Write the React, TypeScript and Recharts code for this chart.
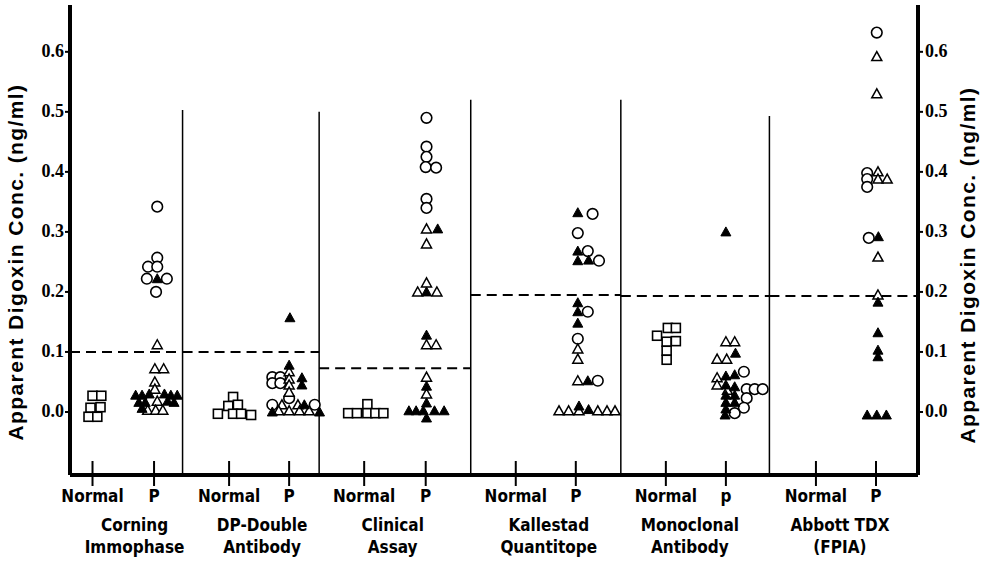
import React from 'react'
import { ScatterChart, Scatter, XAxis, YAxis, ReferenceLine } from 'recharts'

type Pt = [number, 'N' | 'P', number, number] // group, side, value, column slot

const assays = [
  ['Corning', 'Immophase'],
  ['DP-Double', 'Antibody'],
  ['Clinical', 'Assay'],
  ['Kallestad', 'Quantitope'],
  ['Monoclonal', 'Antibody'],
  ['Abbott TDX', '(FPIA)'],
]
const pLabels = ['P', 'P', 'P', 'P', 'p', 'P']
const normalX = [0.15, 1.06, 1.96, 2.97, 3.97, 4.97]
const pX = [0.56, 1.46, 2.37, 3.37, 4.37, 5.37]
const labelX = [0.43, 1.28, 2.15, 3.19, 4.13, 5.13]
const dividerX = [0.75, 1.66, 2.67, 3.67, 4.66]
const dividerTop = [0.503, 0.5, 0.52, 0.52, 0.493]
const cutoffs = [0.1, 0.1, 0.073, 0.195, 0.193, 0.193]
const yTicks = [0, 0.1, 0.2, 0.3, 0.4, 0.5, 0.6]
const X_MAX = 5.65
const Y_MIN = -0.105
const Y_MAX = 0.678
const SLOT = 0.0533

const W = 984
const H = 570
const MARGIN = { top: 5, right: 6, bottom: 5, left: 10 }
const Y_AXIS_W = 60
const PX_PER_X = (W - MARGIN.left - MARGIN.right - 2 * Y_AXIS_W) / X_MAX

const squares: Pt[] = [
  [0, 'N', 0.027, 0], [0, 'N', 0.027, 1.1], [0, 'N', 0.007, -0.25], [0, 'N', 0.008, 1], [0, 'N', -0.008, -0.5], [0, 'N', -0.008, 0.6],
  [1, 'N', 0.025, 0.5], [1, 'N', 0.01, -0.1], [1, 'N', 0.012, 1.1], [1, 'N', -0.003, -1.4], [1, 'N', -0.003, 0.5], [1, 'N', -0.003, 1.5], [1, 'N', -0.005, 2.75],
  [2, 'N', 0.013, 0.4], [2, 'N', -0.002, -2], [2, 'N', -0.002, -0.9], [2, 'N', -0.002, 0.4], [2, 'N', -0.002, 1.4], [2, 'N', -0.002, 2.4],
  [4, 'N', 0.14, 0.25], [4, 'N', 0.14, 1.25], [4, 'N', 0.127, -1.1], [4, 'N', 0.117, 0.1], [4, 'N', 0.118, 1.25], [4, 'N', 0.102, 0.1], [4, 'N', 0.087, 0.1],
]

const openCircles: Pt[] = [
  [0, 'P', 0.342, 0.4], [0, 'P', 0.257, 0.4], [0, 'P', 0.242, -0.75], [0, 'P', 0.242, 0.4], [0, 'P', 0.222, -0.9], [0, 'P', 0.222, 1.6], [0, 'P', 0.2, 0.25],
  [1, 'P', 0.058, -2.1], [1, 'P', 0.058, -1.1], [1, 'P', 0.048, -2.1], [1, 'P', 0.048, -1.1], [1, 'P', 0.023, 0], [1, 'P', 0.012, -2.1], [1, 'P', 0.012, 3.2],
  [2, 'P', 0.49, 0.1], [2, 'P', 0.442, 0.1], [2, 'P', 0.425, 0.1], [2, 'P', 0.408, 0], [2, 'P', 0.407, 1.3], [2, 'P', 0.355, 0.1], [2, 'P', 0.34, 0.1],
  [3, 'P', 0.33, 2.1], [3, 'P', 0.298, 0.25], [3, 'P', 0.268, 1.5], [3, 'P', 0.252, 2.9], [3, 'P', 0.167, 1.5], [3, 'P', 0.122, 0.25], [3, 'P', 0.052, 2.75],
  [4, 'P', 0.067, 2.25], [4, 'P', 0.038, 2.6], [4, 'P', 0.038, 3.6], [4, 'P', 0.038, 4.6], [4, 'P', 0.023, 2.6], [4, 'P', 0.007, 2.25], [4, 'P', -0.002, 1.1],
  [5, 'P', 0.632, 0.1], [5, 'P', 0.398, -1.1], [5, 'P', 0.388, -1.1], [5, 'P', 0.375, -1.1], [5, 'P', 0.29, -0.9],
]

const openTriangles: Pt[] = [
  [0, 'P', 0.112, 0.4], [0, 'P', 0.072, 0.1], [0, 'P', 0.072, 1.2], [0, 'P', 0.05, 0.1], [0, 'P', 0.038, 0.1], [0, 'P', 0.018, 0.4], [0, 'P', 0.003, -0.8], [0, 'P', 0.003, 0.2], [0, 'P', 0.003, 1.1],
  [1, 'P', 0.067, 0], [1, 'P', 0.055, 0], [1, 'P', 0.045, 0], [1, 'P', 0.033, 0], [1, 'P', 0.012, -0.9], [1, 'P', 0.012, 1.1], [1, 'P', 0.002, -1.3], [1, 'P', 0.002, 0], [1, 'P', 0.002, 1.3], [1, 'P', 0.002, 2.5],
  [2, 'P', 0.305, 0.1], [2, 'P', 0.28, 0.1], [2, 'P', 0.215, 0.1], [2, 'P', 0.2, -1], [2, 'P', 0.2, 1.4], [2, 'P', 0.112, 0.1], [2, 'P', 0.112, 1.3], [2, 'P', 0.058, 0.1], [2, 'P', 0.03, 0.1],
  [3, 'P', 0.105, 0.25], [3, 'P', 0.088, 0.25], [3, 'P', 0.052, 0.25], [3, 'P', 0.002, -2.1], [3, 'P', 0.002, -0.9], [3, 'P', 0.002, 0.4], [3, 'P', 0.002, 2.75], [3, 'P', 0.002, 3.9], [3, 'P', 0.002, 4.9],
  [4, 'P', 0.117, 0], [4, 'P', 0.117, 1.1], [4, 'P', 0.088, -1.1], [4, 'P', 0.088, 0.1], [4, 'P', 0.057, -1.1], [4, 'P', 0.045, -1.1], [4, 'P', 0.036, 0.2],
  [5, 'P', 0.592, 0.1], [5, 'P', 0.53, 0.1], [5, 'P', 0.4, 0.25], [5, 'P', 0.388, 0.25], [5, 'P', 0.388, 1.4], [5, 'P', 0.258, 0.25], [5, 'P', 0.195, 0.25],
]

const filledTriangles: Pt[] = [
  [0, 'P', 0.222, 0.4], [0, 'P', 0.028, -2.3], [0, 'P', 0.028, -1.5], [0, 'P', 0.03, -0.6], [0, 'P', 0.03, 1.3], [0, 'P', 0.028, 2.1], [0, 'P', 0.028, 2.9],
  [0, 'P', 0.016, -1.9], [0, 'P', 0.016, -1.1], [0, 'P', 0.018, 1.7], [0, 'P', 0.016, 2.5], [0, 'P', 0.006, -1.5],
  [1, 'P', 0.157, 0.1], [1, 'P', 0.078, 0], [1, 'P', 0.057, 1.6], [1, 'P', 0.045, 1.6], [1, 'P', 0.0, -2.1], [1, 'P', 0.0, 3.8], [1, 'P', 0.012, 1.9],
  [2, 'P', 0.305, 1.5], [2, 'P', 0.2, 0.1], [2, 'P', 0.128, 0.1], [2, 'P', 0.043, 0.1], [2, 'P', 0.015, 0.1],
  [2, 'P', 0.002, -2.1], [2, 'P', 0.002, -1.2], [2, 'P', 0.002, -0.3], [2, 'P', 0.002, 1.1], [2, 'P', 0.002, 2.3], [2, 'P', -0.01, 0.1],
  [3, 'P', 0.332, 0.25], [3, 'P', 0.268, 0.25], [3, 'P', 0.252, 0.25], [3, 'P', 0.253, 1.6], [3, 'P', 0.182, 0.25], [3, 'P', 0.167, 0.25], [3, 'P', 0.148, 0.25],
  [3, 'P', 0.052, 1.5], [3, 'P', 0.01, 0.4], [3, 'P', 0.004, 1.6],
  [4, 'P', 0.3, 0], [4, 'P', 0.098, 1.2], [4, 'P', 0.062, 1.1], [4, 'P', 0.06, 0], [4, 'P', 0.045, 0], [4, 'P', 0.042, 1.1], [4, 'P', 0.028, 0],
  [4, 'P', 0.028, 1.1], [4, 'P', 0.016, 0], [4, 'P', 0.016, 1.1], [4, 'P', 0.005, 0], [4, 'P', -0.005, -0.1],
  [5, 'P', 0.292, 0.3], [5, 'P', 0.183, 0.25], [5, 'P', 0.132, 0.25], [5, 'P', 0.103, 0.25], [5, 'P', 0.092, 0.25],
  [5, 'P', -0.005, -1.1], [5, 'P', -0.005, 0.1], [5, 'P', -0.005, 1.3],
]

const toXY = (pts: Pt[]) =>
  pts.map(([g, side, v, slot]) => ({ x: (side === 'N' ? normalX[g] : pX[g]) + slot * SLOT, y: v }))

const bounds = [0, ...dividerX, X_MAX]
const LABEL_FONT = "'Liberation Sans Narrow', 'DejaVu Sans Condensed', 'Liberation Sans', sans-serif"

const SquareShape = (p: any) => (
  <rect x={p.cx - 4.5} y={p.cy - 4.5} width={9} height={9} fill="#fff" stroke="#000" strokeWidth={1.6} />
)
const CircleShape = (p: any) => <circle cx={p.cx} cy={p.cy} r={5.3} fill="#fff" stroke="#000" strokeWidth={1.6} />
const triPoints = (cx: number, cy: number) => `${cx},${cy - 5} ${cx - 5},${cy + 4} ${cx + 5},${cy + 4}`
const OpenTri = (p: any) => <polygon points={triPoints(p.cx, p.cy)} fill="#fff" stroke="#000" strokeWidth={1.5} />
const FilledTri = (p: any) => <polygon points={triPoints(p.cx, p.cy)} fill="#000" stroke="#000" strokeWidth={1} />

function SideTick({ x, y, payload }: any) {
  const v = payload.value
  const ni = normalX.indexOf(v)
  const label = ni >= 0 ? 'Normal' : pLabels[pX.indexOf(v)]
  const gx = ni >= 0 ? x + (labelX[ni] - normalX[ni]) * PX_PER_X : 0
  return (
    <g>
      <line x1={x} x2={x} y1={y - 14} y2={y + 11} stroke="#000" strokeWidth={2} />
      <text x={x} y={y + 27} textAnchor="middle" fontFamily={LABEL_FONT} fontWeight="bold" fontSize={17} fill="#000">
        {label}
      </text>
      {ni >= 0 && (
        <text x={gx} y={y} textAnchor="middle" fontFamily={LABEL_FONT} fontWeight="bold" fontSize={17} fill="#000">
          <tspan x={gx} dy={56}>{assays[ni][0]}</tspan>
          <tspan x={gx} dy={22}>{assays[ni][1]}</tspan>
        </text>
      )}
    </g>
  )
}

function YTick({ x, y, payload, orientation }: any) {
  const right = orientation === 'right'
  return (
    <text
      x={right ? x + 2 : x - 1}
      y={y}
      dy={5}
      textAnchor={right ? 'start' : 'end'}
      fontFamily="'Liberation Serif', serif"
      fontWeight="bold"
      fontSize={18}
      fill="#000"
    >
      {Number(payload.value).toFixed(1)}
    </text>
  )
}

const titleStyle: React.CSSProperties = {
  position: 'absolute',
  fontFamily: "'Liberation Sans', sans-serif",
  fontWeight: 'bold',
  fontSize: 21,
  letterSpacing: 1.4,
  whiteSpace: 'nowrap',
  transform: 'translate(-50%, -50%) rotate(-90deg)',
  color: '#000',
}

export default function App() {
  return (
    <div style={{ position: 'relative', width: W, height: H, background: '#fff' }}>
      <style>{'body{margin:0}'}</style>
      <ScatterChart width={W} height={H} margin={MARGIN}>
        <XAxis
          xAxisId="main"
          type="number"
          dataKey="x"
          domain={[0, X_MAX]}
          ticks={[...normalX, ...pX].sort((a, b) => a - b)}
          tick={<SideTick />}
          tickLine={false}
          tickSize={0}
          tickMargin={0}
          axisLine={{ stroke: '#000', strokeWidth: 4 }}
          height={90}
          interval={0}
          allowDataOverflow
        />
        <YAxis
          yAxisId="left"
          type="number"
          dataKey="y"
          domain={[Y_MIN, Y_MAX]}
          ticks={yTicks}
          tick={<YTick orientation="left" />}
          tickLine={{ stroke: '#000', strokeWidth: 2 }}
          tickSize={5}
          tickMargin={0}
          axisLine={{ stroke: '#000', strokeWidth: 4 }}
          width={Y_AXIS_W}
          interval={0}
          allowDataOverflow
        />
        <YAxis
          yAxisId="right"
          orientation="right"
          type="number"
          domain={[Y_MIN, Y_MAX]}
          ticks={yTicks}
          tick={<YTick orientation="right" />}
          tickLine={{ stroke: '#000', strokeWidth: 2 }}
          tickSize={5}
          tickMargin={0}
          axisLine={{ stroke: '#000', strokeWidth: 4 }}
          width={Y_AXIS_W}
          interval={0}
          allowDataOverflow
        />
        {dividerX.map((d, i) => (
          <ReferenceLine
            key={`d${i}`}
            xAxisId="main"
            yAxisId="left"
            segment={[{ x: d, y: Y_MIN }, { x: d, y: dividerTop[i] }]}
            stroke="#000"
            strokeWidth={1.5}
          />
        ))}
        {cutoffs.map((c, i) => (
          <ReferenceLine
            key={`c${i}`}
            xAxisId="main"
            yAxisId="left"
            segment={[{ x: bounds[i], y: c }, { x: bounds[i + 1], y: c }]}
            stroke="#000"
            strokeWidth={2}
            strokeDasharray="10 6"
          />
        ))}
        <Scatter xAxisId="main" yAxisId="left" data={toXY(squares)} shape={SquareShape} isAnimationActive={false} />
        <Scatter xAxisId="main" yAxisId="left" data={toXY(openCircles)} shape={CircleShape} isAnimationActive={false} />
        <Scatter xAxisId="main" yAxisId="left" data={toXY(openTriangles)} shape={OpenTri} isAnimationActive={false} />
        <Scatter xAxisId="main" yAxisId="left" data={toXY(filledTriangles)} shape={FilledTri} isAnimationActive={false} />
      </ScatterChart>
      <div style={{ ...titleStyle, left: 16, top: 262 }}>Apparent Digoxin Conc. (ng/ml)</div>
      <div style={{ ...titleStyle, left: 968, top: 265 }}>Apparent Digoxin Conc. (ng/ml)</div>
    </div>
  )
}
